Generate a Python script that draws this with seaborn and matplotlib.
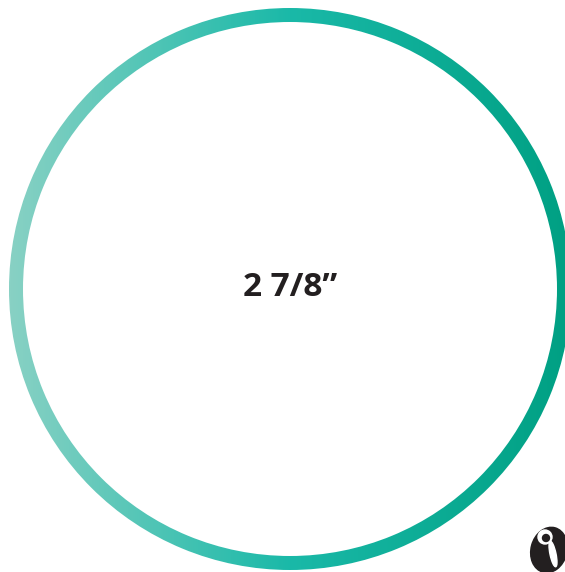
import numpy as np
import seaborn as sns
import matplotlib.pyplot as plt
from matplotlib.patches import Wedge, Ellipse, Circle

# Chart content
size_label = "2 7/8\u201d"
gradient_colors = ["#88d1c4", "#1ab9a8", "#00a083"]
text_color = "#231f20"

sns.set_theme(style="white")
plt.rcParams['font.family'] = ['Open Sans', 'DejaVu Sans']

fig = plt.figure(figsize=(5.65, 5.72), dpi=100)
ax = fig.add_axes([0, 0, 1, 1])
ax.set_xlim(0, 565)
ax.set_ylim(572, 0)
ax.axis('off')

# gradient ring: horizontal gradient clipped to an annulus
cmap = sns.blend_palette(gradient_colors, as_cmap=True)
grad = np.tile(np.linspace(0, 1, 600), (600, 1))
im = ax.imshow(grad, cmap=cmap, extent=[9, 571, 571, 7], aspect='auto', interpolation='bilinear')
ring = Wedge((290, 289), 281, 0, 360, width=14, facecolor='none', edgecolor='none', transform=ax.transData)
ax.add_patch(ring)
im.set_clip_path(ring)

ax.text(290, 287, size_label, ha='center', va='center', fontsize=24,
        fontweight='bold', color=text_color)

# small logo, bottom right
ax.add_patch(Ellipse((549, 550), 36, 46, angle=15, color=text_color))
ax.add_patch(Ellipse((553, 554), 6, 26, angle=-12, color='white'))
ax.add_patch(Circle((545, 537), 7, color='white'))
ax.add_patch(Circle((546, 538), 3.5, color=text_color))

ax.set_xlim(0, 565)
ax.set_ylim(572, 0)
fig.savefig("out.png", dpi=100)
